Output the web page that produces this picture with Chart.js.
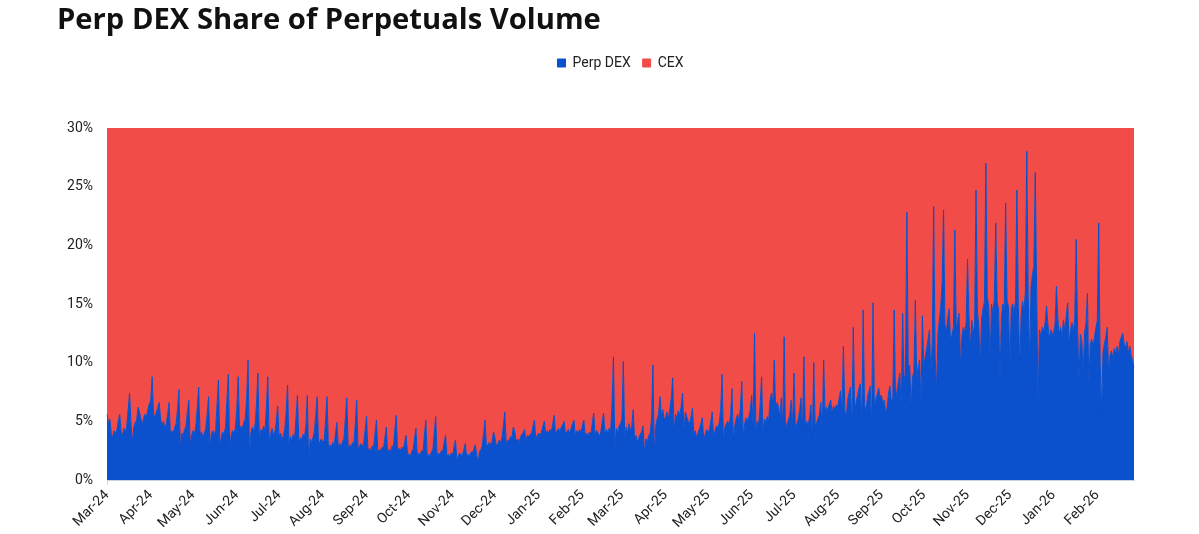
<!DOCTYPE html>
<html>
<head>
<meta charset="utf-8">
<script src="https://cdn.jsdelivr.net/npm/chart.js@4.4.1/dist/chart.umd.min.js"></script>
<style>
  html, body { margin: 0; padding: 0; background: #ffffff; }
  #wrap { position: relative; width: 1199px; height: 534px; overflow: hidden; }
  #c { position: absolute; left: 0; top: 0; }
  #title {
    position: absolute; left: 57px; top: 3px;
    font-family: 'Open Sans', 'Roboto', sans-serif;
    font-weight: 700; font-size: 29.2px; line-height: 30px;
    color: #111111; white-space: nowrap;
  }
</style>
</head>
<body>
<div id="wrap">
  <canvas id="c" width="1199" height="534"></canvas>
  <div id="title">Perp DEX Share of Perpetuals Volume</div>
</div>
<script>
// Daily Perp DEX share of perpetuals volume (%), starting 1 Mar 2024
const startDate = [2024, 2, 1]; // year, monthIndex, day (UTC)

const dex2024 = [
  // Mar
  5.6,4.8,5.2,4.0,3.6,4.2,3.9,4.3,5.0,5.6,4.1,3.8,4.4,4.0,4.6,6.0,7.4,4.8,3.2,4.5,4.9,5.1,6.2,5.8,5.2,4.7,5.3,5.6,5.4,6.0,6.5,
  // Apr
  6.8,8.8,5.6,5.4,5.8,6.2,6.6,5.2,4.6,5.0,4.4,4.8,5.6,6.6,3.7,4.2,4.0,4.5,4.8,6.0,7.7,2.6,4.0,3.8,4.3,4.6,5.8,6.8,2.9,3.8,
  // May
  4.2,3.9,4.6,6.2,7.9,3.8,4.1,3.6,4.0,4.4,5.6,7.1,2.8,3.9,4.2,3.8,4.3,6.4,8.5,3.0,3.6,4.1,3.9,4.5,6.8,9.0,2.6,3.8,4.2,4.0,4.4,
  // Jun
  6.0,8.8,4.2,4.6,4.4,4.9,5.2,7.0,10.2,2.0,4.0,4.5,4.2,4.8,6.5,9.1,3.4,4.3,4.0,4.6,4.2,6.2,8.8,3.1,3.9,4.4,3.8,4.1,5.0,6.3,
  // Jul
  3.6,4.0,3.4,3.8,4.3,5.8,8.1,3.0,3.7,3.3,3.9,3.5,5.4,7.2,3.1,3.6,3.4,3.9,3.7,4.6,7.2,1.4,3.5,3.2,3.6,4.1,5.6,7.1,2.9,3.3,3.5,
  // Aug
  3.2,3.4,5.2,7.1,2.6,3.0,2.8,3.2,3.0,4.0,4.9,2.7,3.1,2.9,3.3,3.5,5.3,7.0,2.6,3.0,2.8,3.2,3.1,4.8,6.8,2.5,2.9,3.1,2.8,3.2,4.3,
  // Sep
  5.4,2.4,2.7,2.5,2.9,2.8,4.0,5.1,2.3,2.6,2.5,2.8,2.7,3.6,4.5,2.2,2.6,2.4,2.9,2.8,4.2,5.5,2.4,2.7,2.5,2.8,2.6,3.2,3.8,2.3,
  // Oct
  2.2,2.0,2.4,2.6,3.5,4.4,1.9,2.3,2.1,2.5,2.4,3.8,5.1,1.8,2.2,2.0,2.4,2.6,4.0,5.4,1.9,2.3,2.1,2.5,2.4,3.2,3.8,2.0,2.2,1.9,2.3,
  // Nov
  2.1,2.8,3.4,1.8,2.0,2.3,2.1,2.2,2.6,3.1,1.9,2.2,2.0,2.4,2.3,2.6,3.0,2.2,1.4,2.4,2.6,2.9,4.0,5.1,2.8,3.0,3.2,3.0,3.3,4.1,
  // Dec
  3.6,2.9,3.1,3.4,3.2,3.6,4.6,5.8,3.0,3.4,3.3,3.7,3.6,4.5,4.2,3.3,3.5,3.2,3.6,3.9,4.0,4.3,3.4,3.8,3.7,3.9,4.0,4.6,5.1,3.5,3.8
];

const dex2025 = [
  // Jan
  4.0,3.8,4.1,4.6,5.0,3.9,4.2,4.0,4.3,4.1,4.8,5.5,3.8,4.2,4.4,4.1,4.5,4.7,5.0,3.9,4.1,4.3,4.0,4.4,4.8,5.1,3.7,4.2,4.0,4.3,4.1,
  // Feb
  4.6,5.1,3.8,4.0,3.7,4.1,3.9,4.8,5.7,3.8,4.2,4.0,3.7,4.1,4.9,5.7,3.9,4.3,4.0,4.4,4.2,6.5,10.5,2.6,4.4,4.0,4.6,4.8,
  // Mar
  5.2,10.1,3.6,4.5,4.0,4.8,4.2,4.6,6.0,3.4,3.8,3.2,3.6,3.9,4.1,4.6,2.3,3.5,3.2,3.8,4.0,5.2,9.8,2.1,4.6,5.2,5.6,7.1,5.4,6.0,5.1,
  // Apr
  5.4,5.8,5.2,6.0,7.0,8.7,4.0,5.6,5.3,5.9,5.5,6.3,7.4,4.2,5.8,5.4,5.0,4.8,5.4,6.1,3.9,4.2,3.6,4.0,4.4,4.8,5.3,3.4,3.9,4.3,
  // May
  4.0,4.3,5.0,5.8,3.6,4.2,4.6,4.4,4.9,6.0,9.0,3.2,4.5,4.8,5.0,4.7,5.5,7.8,3.4,4.6,5.2,5.6,5.0,6.2,8.4,3.5,4.8,5.3,5.0,5.4,6.0,
  // Jun
  7.2,4.6,12.5,4.2,5.0,4.8,6.4,8.8,4.1,5.2,4.9,5.4,5.0,6.8,7.4,6.5,10.2,6.0,6.6,6.2,5.4,7.0,4.4,12.2,4.0,4.8,5.1,5.6,6.8,4.5,
  // Jul
  9.1,4.4,4.8,5.2,6.0,7.0,4.2,10.5,4.6,5.0,4.7,5.3,6.4,3.4,10.0,4.5,4.9,5.2,5.6,6.6,4.0,10.2,5.8,6.2,5.9,6.5,6.8,5.7,6.3,6.0,6.4,
  // Aug
  6.2,7.0,7.6,5.8,11.4,6.0,5.2,6.8,7.4,7.9,4.3,13.0,5.8,6.6,7.2,7.8,8.2,4.5,14.5,6.4,5.9,7.0,7.5,8.0,4.4,15.1,6.2,6.9,7.3,7.8,7.1,
  // Sep
  7.2,6.4,6.8,5.6,6.2,7.4,8.0,6.6,7.0,14.5,6.8,7.6,8.4,9.1,6.0,14.2,8.6,9.0,22.8,9.4,9.8,6.2,8.8,9.2,15.3,8.6,9.6,10.2,6.6,14.0,
  // Oct
  9.8,10.4,11.2,12.0,12.8,9.2,11.6,23.3,10.8,7.4,12.4,13.6,14.8,16.8,23.0,13.2,12.6,13.8,14.6,11.8,12.4,13.0,21.3,12.8,13.6,14.2,9.6,12.2,13.0,12.6,13.4,
  // Nov
  18.8,14.0,11.2,13.6,12.5,13.2,24.7,14.4,13.0,9.8,13.8,14.6,15.2,27.0,15.6,14.8,10.2,15.0,14.2,15.4,21.9,15.1,14.6,8.5,13.8,15.0,14.4,23.6,15.3,14.8,
  // Dec
  9.6,14.6,15.0,14.2,15.3,24.7,14.8,9.6,14.0,15.2,14.5,16.0,28.0,15.8,9.8,16.4,17.5,18.2,26.2,16.0,6.6,12.8,12.2,13.0,12.6,13.4,14.8,13.2,12.0,12.8,12.4
];

const dex2026 = [
  // Jan
  12.6,13.2,16.5,13.8,12.4,13.0,12.2,13.6,12.8,14.0,15.1,11.6,12.8,13.4,12.6,13.8,20.5,13.0,8.5,12.4,11.8,9.2,12.6,13.4,15.9,8.0,11.6,12.0,11.4,12.2,13.0,
  // Feb
  13.6,21.9,10.2,5.4,10.8,11.6,12.2,13.0,9.2,10.6,11.0,10.4,11.2,10.8,11.4,10.6,11.8,12.2,12.5,11.6,11.2,11.8,10.8,11.4,10.6,10.2,9.6
];

const monthTicks = ['Mar-24','Apr-24','May-24','Jun-24','Jul-24','Aug-24','Sep-24','Oct-24','Nov-24','Dec-24',
  'Jan-25','Feb-25','Mar-25','Apr-25','May-25','Jun-25','Jul-25','Aug-25','Sep-25','Oct-25','Nov-25','Dec-25',
  'Jan-26','Feb-26'];

const seriesNames = ['Perp DEX', 'CEX'];
const BLUE = '#0b50cc';
const RED = '#f14c48';

const dex = dex2024.concat(dex2025, dex2026);
const cex = dex.map(v => Math.round((100 - v) * 10) / 10);
const dates = dex.map((_, i) => new Date(Date.UTC(startDate[0], startDate[1], startDate[2] + i)));
const labels = dates.map(d => d.toISOString().slice(0, 10));

function monthLabelAt(i) {
  const d = dates[i];
  if (!d || d.getUTCDate() !== 1) return null;
  const k = (d.getUTCFullYear() - startDate[0]) * 12 + d.getUTCMonth() - startDate[1];
  return monthTicks[k] ?? null;
}

const legendSpace = {
  id: 'legendSpace',
  beforeInit(chart) {
    const origFit = chart.legend.fit;
    chart.legend.fit = function () {
      origFit.call(this);
      this.height = 84;
    };
  }
};

new Chart(document.getElementById('c'), {
  type: 'line',
  data: {
    labels: labels,
    datasets: [
      { label: seriesNames[0], data: dex, backgroundColor: BLUE, borderColor: BLUE, borderWidth: 1,
        fill: 'origin', pointRadius: 0, tension: 0 },
      { label: seriesNames[1], data: cex, backgroundColor: RED, borderColor: RED, borderWidth: 1,
        fill: '-1', pointRadius: 0, tension: 0 }
    ]
  },
  options: {
    responsive: false,
    animation: false,
    events: [],
    layout: { padding: { top: 44, right: 65, bottom: 0, left: 0 } },
    plugins: {
      title: { display: false },
      tooltip: { enabled: false },
      legend: {
        display: true,
        position: 'top',
        fullSize: false,
        labels: {
          boxWidth: 8, boxHeight: 8, padding: 12,
          color: '#222222',
          font: { family: 'Roboto', size: 14 }
        }
      }
    },
    scales: {
      x: {
        ticks: {
          autoSkip: false, maxRotation: 45, minRotation: 45, padding: 2,
          color: '#222222', font: { family: 'Roboto', size: 14 },
          callback: (value, index) => monthLabelAt(index)
        },
        grid: {
          display: true, drawOnChartArea: false, drawTicks: true, tickLength: 5,
          color: (ctx) => (monthLabelAt(ctx.index) ? '#d4d4d4' : 'rgba(0,0,0,0)')
        },
        border: { display: true, color: '#c9d3e2' },
        afterFit: (s) => { s.height = 54; }
      },
      y: {
        stacked: true, min: 0, max: 30,
        ticks: {
          stepSize: 5, padding: 14, color: '#222222',
          font: { family: 'Roboto', size: 14 },
          callback: (v) => v + '%'
        },
        grid: { display: false, drawTicks: false },
        border: { display: false },
        afterFit: (s) => { s.width = 107; }
      }
    }
  },
  plugins: [legendSpace]
});
</script>
</body>
</html>
